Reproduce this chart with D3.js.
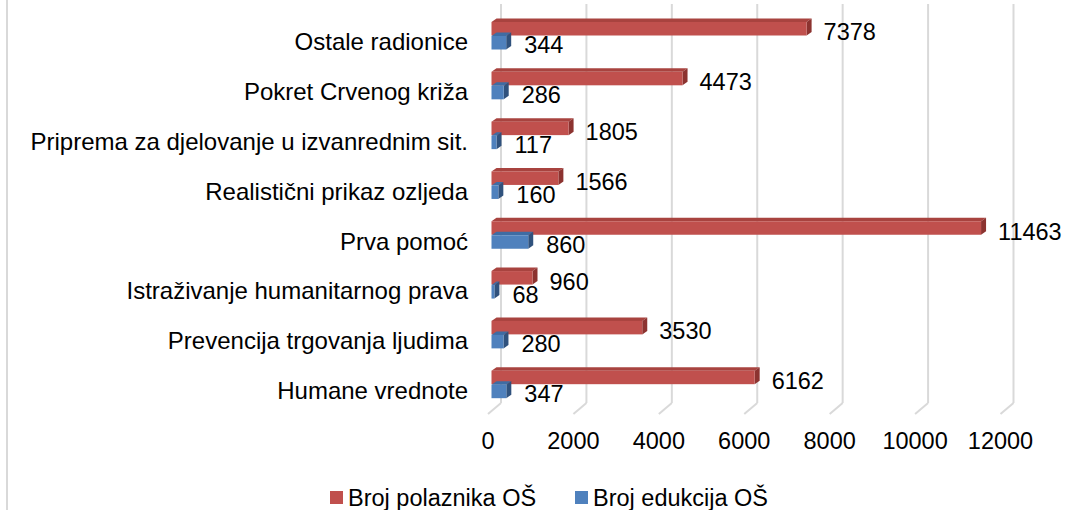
<!DOCTYPE html>
<html><head><meta charset="utf-8">
<script src="https://cdn.jsdelivr.net/npm/d3@7"></script>
<style>body{margin:0;background:#fff}svg{display:block}text{font-family:"Liberation Sans",Arial,sans-serif;fill:#000}</style>
</head><body>
<script>
const categories = ["Ostale radionice","Pokret Crvenog križa","Priprema za djelovanje u izvanrednim sit.","Realistični prikaz ozljeda","Prva pomoć","Istraživanje humanitarnog prava","Prevencija trgovanja ljudima","Humane vrednote"];
const polaznika = [7378,4473,1805,1566,11463,960,3530,6162];
const edukcija = [344,286,117,160,860,68,280,347];
const ticks = [0,2000,4000,6000,8000,10000,12000];
const seriesNames = ["Broj polaznika OŠ","Broj edukcija OŠ"];

const W=1067,H=510,FS=23.5,FSC=24;
const svg=d3.select("body").append("svg").attr("width",W).attr("height",H);
const x=d3.scaleLinear().domain([0,12000]).range([491.5,1004]);
const y=d3.scaleBand().domain(categories).range([8,406.5]);
const colors=[{front:"#C0504D",top:"#A8433F",side:"#8C3330"},{front:"#4F81BD",top:"#3F6CA3",side:"#30527D"}];

// left chart-area border
svg.append("line").attr("x1",7).attr("x2",7).attr("y1",0).attr("y2",H).attr("stroke","#D9D9D9").attr("stroke-width",2);

// back wall gridlines + floor diagonals
const g=svg.append("g");
ticks.forEach(t=>{
  g.append("line").attr("x1",x(t)+9.5).attr("x2",x(t)+9.5).attr("y1",4).attr("y2",403).attr("stroke","#D9D9D9").attr("stroke-width",2);
  g.append("line").attr("x1",x(t)+9.5).attr("y1",403).attr("x2",x(t)-3.5).attr("y2",414).attr("stroke","#D9D9D9").attr("stroke-width",2);
});
// tick labels
svg.selectAll("text.tick").data(ticks).join("text").attr("class","tick")
  .attr("x",d=>x(d)-3.5).attr("y",441).attr("dy","0.35em").attr("text-anchor","middle").attr("font-size",FS).text(d=>d);

// category labels
svg.selectAll("text.cat").data(categories).join("text").attr("class","cat")
  .attr("x",468).attr("y",d=>y(d)+34).attr("dy","0.35em").attr("text-anchor","end").attr("font-size",FSC).text(d=>d);

const dx=5,dy=3.5,bh=13.5;
function bar(x0,x1,top,c){
  const gg=svg.append("g");
  gg.append("polygon").attr("points",[[x0,top],[x1,top],[x1+dx,top-dy],[x0+dx,top-dy]].join(" ")).attr("fill",c.top);
  gg.append("polygon").attr("points",[[x1,top],[x1+dx,top-dy],[x1+dx,top+bh-dy],[x1,top+bh]].join(" ")).attr("fill",c.side);
  gg.append("rect").attr("x",x0).attr("y",top).attr("width",x1-x0).attr("height",bh).attr("fill",c.front);
}
categories.forEach((cat,i)=>{
  const b=y(cat);
  bar(x(0),x(polaznika[i]),b+14,colors[0]);
  bar(x(0),x(edukcija[i]),b+28,colors[1]);
  svg.append("text").attr("x",x(polaznika[i])+17).attr("y",b+14+bh/2+3.5).attr("dy","0.35em").attr("font-size",FS).text(polaznika[i]);
  svg.append("text").attr("x",x(edukcija[i])+18).attr("y",b+28+bh/2+2.5).attr("dy","0.35em").attr("font-size",FS).text(edukcija[i]);
});

// legend
const leg=[{x:330,c:colors[0].front,t:seriesNames[0]},{x:575,c:colors[1].front,t:seriesNames[1]}];
leg.forEach(l=>{
  svg.append("rect").attr("x",l.x).attr("y",491).attr("width",13).attr("height",13).attr("fill",l.c);
  svg.append("text").attr("x",l.x+18).attr("y",497.5).attr("dy","0.35em").attr("font-size",FS).text(l.t);
});
</script>
</body></html>
